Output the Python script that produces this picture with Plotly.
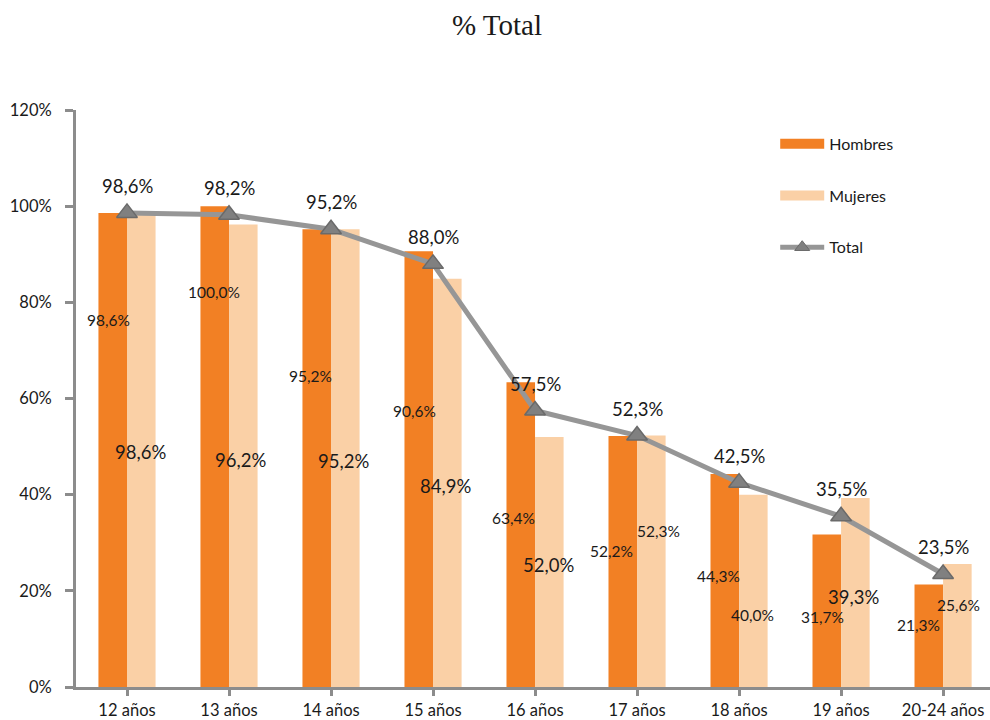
import plotly.graph_objects as go

# --- data ---
categories = ["12 años", "13 años", "14 años", "15 años", "16 años",
              "17 años", "18 años", "19 años", "20-24 años"]
hombres = [98.6, 100.0, 95.2, 90.6, 63.4, 52.2, 44.3, 31.7, 21.3]
mujeres = [98.6, 96.2, 95.2, 84.9, 52.0, 52.3, 40.0, 39.3, 25.6]
total = [98.6, 98.2, 95.2, 88.0, 57.5, 52.3, 42.5, 35.5, 23.5]

# where the (hand-moved) data labels sit, as in the original sheet
h_label_y = [76.3, 82.2, 64.7, 57.3, 35.1, 28.2, 23.0, 14.5, 12.9]
h_label_dx = [-0.18, -0.15, -0.20, -0.18, -0.21, -0.25, -0.20, -0.18, -0.24]
m_label_y = [48.8, 47.3, 46.9, 41.7, 25.3, 32.4, 14.9, 18.7, 17.0]
m_label_dx = [0.13, 0.11, 0.12, 0.12, 0.13, 0.21, 0.13, 0.12, 0.15]
m_label_big = [True, True, True, True, True, False, False, True, False]

ORANGE = "#F28024"
PEACH = "#FAD0A6"
GREY = "#969696"
AXIS = "#8C8C8C"
FONT = "Lato"


def pct(v):
    return f"{v:.1f}%".replace(".", ",")


fig = go.Figure()
fig.add_trace(go.Bar(x=list(range(len(categories))), y=hombres, name="Hombres",
                     marker=dict(color=ORANGE, line=dict(width=0)),
                     showlegend=False))
fig.add_trace(go.Bar(x=list(range(len(categories))), y=mujeres, name="Mujeres",
                     marker=dict(color=PEACH, line=dict(width=0)),
                     showlegend=False))
fig.add_trace(go.Scatter(x=list(range(len(categories))), y=total, name="Total",
                         mode="lines+markers",
                         line=dict(color=GREY, width=5),
                         marker=dict(symbol="triangle-up", size=18, color="#808080",
                                     line=dict(color="#6A6A6A", width=1.5)),
                         showlegend=False))

# legend entries (wide swatches like the Excel legend)
fig.add_trace(go.Scatter(x=[None], y=[None], mode="lines", name="Hombres",
                         line=dict(color=ORANGE, width=11), legendgroup="h"))
fig.add_trace(go.Scatter(x=[None], y=[None], mode="lines", name="Mujeres",
                         line=dict(color=PEACH, width=11), legendgroup="m"))
fig.add_trace(go.Scatter(x=[None], y=[None], mode="lines+markers", name="Total",
                         line=dict(color=GREY, width=5), legendgroup="t",
                         marker=dict(symbol="triangle-up", size=13, color="#808080",
                                     line=dict(color="#6A6A6A", width=1))))

annotations = []
for i in range(len(categories)):
    annotations.append(dict(x=i, y=total[i], text=pct(total[i]), showarrow=False,
                            yshift=27, font=dict(size=18.5, family=FONT, color="#1a1a1a")))
    annotations.append(dict(x=i + h_label_dx[i], y=h_label_y[i], text=pct(hombres[i]),
                            showarrow=False, font=dict(size=15.5, family=FONT, color="#1a1a1a")))
    annotations.append(dict(x=i + m_label_dx[i], y=m_label_y[i], text=pct(mujeres[i]),
                            showarrow=False,
                            font=dict(size=18.5 if m_label_big[i] else 15.5,
                                      family=FONT, color="#1a1a1a")))

fig.update_layout(
    width=990, height=720,
    margin=dict(l=76, r=0, t=110, b=31),
    plot_bgcolor="white", paper_bgcolor="white",
    barmode="group", bargap=0.44, bargroupgap=0,
    font=dict(family=FONT, size=16, color="#1a1a1a"),
    title=dict(text="% Total", x=0.502, xanchor="center", y=0.965, yanchor="middle",
               font=dict(family="Liberation Serif", size=29, color="#1a1a1a")),
    legend=dict(x=0.765, y=0.971, xanchor="left", yanchor="top",
                traceorder="grouped", tracegroupgap=28, itemwidth=44,
                font=dict(size=16, family=FONT, color="#1a1a1a"),
                bgcolor="rgba(0,0,0,0)"),
    annotations=annotations,
)
fig.update_xaxes(
    range=[-0.5, 8.46],
    tickmode="array", tickvals=list(range(len(categories))), ticktext=categories,
    showline=True, linecolor=AXIS, linewidth=3,
    ticks="outside", tickson="boundaries", ticklen=6, tickwidth=3, tickcolor=AXIS,
    showgrid=False, zeroline=False,
    tickfont=dict(size=16.5, family=FONT, color="#1a1a1a"),
)
fig.update_yaxes(
    range=[0, 120], dtick=20, ticksuffix="%",
    showline=True, linecolor=AXIS, linewidth=3,
    ticks="outside", ticklen=8, tickwidth=3, tickcolor=AXIS,
    ticklabelstandoff=10,
    showgrid=False, zeroline=False,
    tickfont=dict(size=16.5, family=FONT, color="#1a1a1a"),
)

# drop the browser's default 8px body margin so the chart sits at the page corner
fig.write_html("out.html", config={"displayModeBar": False},
               post_script="document.body.style.margin='0';")
